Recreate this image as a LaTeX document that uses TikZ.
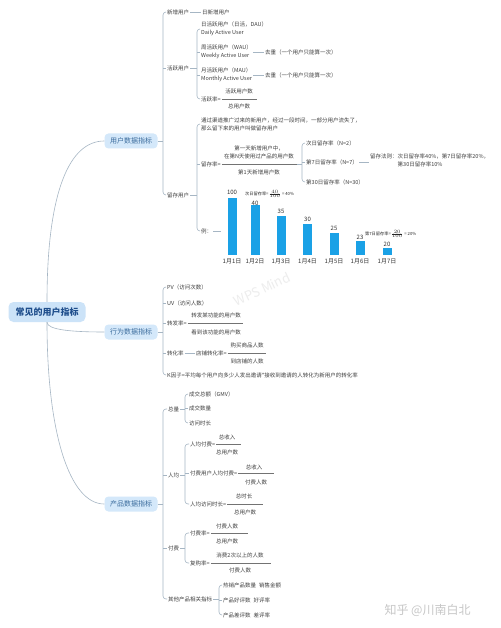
\documentclass[tikz,border=0pt]{standalone}
\usepackage{fontspec}
\setmainfont{Noto Sans CJK SC}
\usetikzlibrary{positioning}
\definecolor{txtc}{HTML}{404040}
\definecolor{linec}{HTML}{A6B6C4}
\definecolor{rootfill}{HTML}{CCE3F8}
\definecolor{rootc}{HTML}{1F4E8C}
\definecolor{topfill}{HTML}{D4E8FA}
\definecolor{topc}{HTML}{3A6B9C}
\definecolor{barc}{HTML}{1AA1E6}

\begin{document}
\begin{tikzpicture}[x=1pt, y=-1pt,
  txt/.style={anchor=west, inner sep=1pt, text=txtc, align=left, font=\fontsize{5.5}{8}\selectfont},
  num/.style={inner sep=1pt, text=txtc, align=center, font=\fontsize{5.5}{8}\selectfont},
  topic/.style={fill=topfill, rounded corners=4pt, text=topc, minimum width=53pt, minimum height=15pt, inner sep=1pt, font=\fontsize{7}{8}\selectfont},
  link/.style={draw=linec, line width=0.6pt},
  br/.style={draw=linec, line width=0.6pt, rounded corners=3pt},
  frac/.style={draw=black!55, line width=0.4pt},
  barval/.style={text=black!80, inner sep=0pt, font=\fontsize{6}{6}\selectfont},
  day/.style={text=black!80, inner sep=0pt, font=\fontsize{6}{6}\selectfont},
  anno/.style={anchor=west, inner sep=0pt, text=black!85, font=\fontsize{4.2}{5}\selectfont}]
\fill[white] (0,0) rectangle (500,628);
\useasboundingbox (0,0) rectangle (500,628);

% root and main topics
\node[fill=rootfill, rounded corners=5pt, text=rootc, minimum width=77pt, minimum height=20pt, font=\fontsize{9}{10}\selectfont\bfseries] (root) at (47,312) {常见的用户指标};
\node[topic] (user) at (131,141) {用户数据指标};
\node[topic] (act) at (131,332) {行为数据指标};
\node[topic] (prod) at (131,504) {产品数据指标};
\draw[link] (root.north) .. controls +(0,-110) and +(-35,0) .. (user.west);
\draw[link] (root.south) .. controls +(0,8) and +(-30,0) .. (act.west);
\draw[link] (root.south) .. controls +(0,110) and +(-35,0) .. (prod.west);

\coordinate (ub) at (163,0);
\coordinate (ab) at (197,0);
\coordinate (nb) at (302,0);
\coordinate (pb) at (185,0);
\coordinate (ob) at (219,0);

% user data
\node[txt] (newu) at (166,12) {新增用户};
\node[txt] (actu) at (166,68) {活跃用户};
\node[txt] (retu) at (166,195) {留存用户};
\draw[link] (user.east) -- (user.east -| ub);
\draw[br] (newu.west) -- (newu.west -| ub) -- (retu.west -| ub) -- (retu.west);
\draw[link] (actu.west -| ub) -- (actu.west);
\node[txt] (dnew) at (201,12) {日新增用户};
\draw[link] (newu) -- (dnew);

\node[txt] (dau) at (200,29) {日活跃用户（日活，DAU）\\Daily Active User};
\node[txt] (wau) at (200,52) {周活跃用户（WAU）\\Weekly Active User};
\node[txt] (mau) at (200,75) {月活跃用户（MAU）\\Monthly Active User};
\node[txt] (arate) at (200,99) {活跃率=};
\draw[link] (actu.east) -- (actu.east -| ab);
\draw[br] (dau.west) -- (dau.west -| ab) -- (arate.west -| ab) -- (arate.west);
\draw[link] (wau.west -| ab) -- (wau.west);
\draw[link] (mau.west -| ab) -- (mau.west);
\node[txt] (wdup) at (264,52) {去重（一个用户只能算一次）};
\node[txt] (mdup) at (264,75) {去重（一个用户只能算一次）};
\draw[link] (wau) -- (wdup);
\draw[link] (mau) -- (mdup);
\node[num] (aranum) at (239,91) {活跃用户数};
\node[num] (araden) at (239,106) {总用户数};
\draw[frac] (arate.east) -- ++(35,0);

\node[txt] (rdesc) at (200,124) {通过渠道推广过来的新用户，经过一段时间，一部分用户流失了，\\那么留下来的用户叫做留存用户};
\node[txt] (rrate) at (200,164) {留存率=};
\node[txt] (rex) at (200,231) {例：};
\draw[link] (retu.east) -- (retu.east -| ab);
\draw[br] (rdesc.west) -- (rdesc.west -| ab) -- (rex.west -| ab) -- (rex.west);
\draw[link] (rrate.west -| ab) -- (rrate.west);
\node[num] (rnum) at (259,152) {第一天新增用户中，\\在第N天使用过产品的用户数};
\node[num] (rden) at (259,172) {第1天新增用户数};
\draw[frac] (rrate.east) -- ++(75,0) coordinate (rend);

\node[txt] (r2) at (305,143) {次日留存率（N=2）};
\node[txt] (r7) at (305,162) {第7日留存率（N=7）};
\node[txt] (r30) at (305,182) {第30日留存率（N=30）};
\draw[link] (rend) -- (rend -| nb);
\draw[br] (r2.west) -- (r2.west -| nb) -- (r30.west -| nb) -- (r30.west);
\draw[link] (r7.west -| nb) -- (r7.west);
\node[txt] (rule) at (369,160) {留存法则：次日留存率40\%，第7日留存率20\%，\\\phantom{留存法则：}第30日留存率10\%};
\draw[link] (r7.east) -- (r7.east -| rule.west);

% example chart
\coordinate (chart) at (221,231);
\draw[link] (rex.east) -- (chart);
\foreach \x/\ty/\v/\ly [count=\i] in {232/198/100/192, 255/205/40/203, 281/216/35/211, 307.5/224/30/219, 334/233/25/228, 360/241/23/237, 387/248/20/244} {
  \fill[barc] (\x-4.5,\ty) rectangle (\x+4.5,255);
  \node[barval] (v\i) at (\x,\ly) {\v};
  \node[day] (d\i) at (\x,261) {1月\i 日};
}
\node[anno] (ann1) at (245,194) {次日留存率=$\frac{40}{100}$ = 40\%};
\node[anno] (ann7) at (365,234) {第7日留存率=$\frac{20}{100}$ = 20\%};

% behaviour data
\node[txt] (pv) at (166,287) {PV（访问次数）};
\node[txt] (uv) at (166,303) {UV（访问人数）};
\node[txt] (fwd) at (166,323) {转发率=};
\node[txt] (conv) at (166,353) {转化率};
\node[txt] (kf) at (166,375) {K因子=平均每个用户向多少人发出邀请*接收到邀请的人转化为新用户的转化率};
\draw[link] (act.east) -- (act.east -| ub);
\draw[br] (pv.west) -- (pv.west -| ub) -- (kf.west -| ub) -- (kf.west);
\foreach \n in {uv,fwd,conv} \draw[link] (\n.west -| ub) -- (\n.west);
\node[num] (fwdnum) at (216,315) {转发某功能的用户数};
\node[num] (fwdden) at (216,332) {看到该功能的用户数};
\draw[frac] (fwd.east) -- ++(55,0);
\node[txt] (shop) at (195,353) {店铺转化率=};
\draw[link] (conv) -- (shop);
\node[num] (shopnum) at (247,345) {购买商品人数};
\node[num] (shopden) at (247,361) {到店铺的人数};
\draw[frac] (shop.east) -- ++(38,0);

% product data
\node[txt] (tot) at (167,409) {总量};
\node[txt] (avg) at (167,475) {人均};
\node[txt] (pay) at (167,548) {付费};
\node[txt] (oth) at (167,599) {其他产品相关指标};
\draw[link] (prod.east) -- (prod.east -| ub);
\draw[br] (tot.west) -- (tot.west -| ub) -- (oth.west -| ub) -- (oth.west);
\foreach \n in {avg,pay} \draw[link] (\n.west -| ub) -- (\n.west);

\node[txt] (gmv) at (188,394) {成交总额（GMV）};
\node[txt] (cnt) at (188,408) {成交数量};
\node[txt] (dur) at (188,423) {访问时长};
\draw[link] (tot.east) -- (tot.east -| pb);
\draw[br] (gmv.west) -- (gmv.west -| pb) -- (dur.west -| pb) -- (dur.west);
\draw[link] (cnt.west -| pb) -- (cnt.west);

\node[txt] (arpu) at (189,444) {人均付费=};
\node[txt] (arppu) at (189,473) {付费用户人均付费=};
\node[txt] (atime) at (189,504) {人均访问时长=};
\draw[link] (avg.east) -- (avg.east -| pb);
\draw[br] (arpu.west) -- (arpu.west -| pb) -- (atime.west -| pb) -- (atime.west);
\draw[link] (arppu.west -| pb) -- (arppu.west);
\node[num] (arpunum) at (227,437) {总收入};
\node[num] (arpuden) at (227,452) {总用户数};
\draw[frac] (arpu.east) -- ++(25,0);
\node[num] (arppunum) at (254,467) {总收入};
\node[num] (arppuden) at (256,482) {付费人数};
\draw[frac] (arppu.east) -- ++(36,0);
\node[num] (atimenum) at (244,496) {总时长};
\node[num] (atimeden) at (245,512) {总用户数};
\draw[frac] (atime.east) -- ++(36,0);

\node[txt] (prate) at (189,533) {付费率=};
\node[txt] (rep) at (189,563) {复购率=};
\draw[link] (pay.east) -- (pay.east -| pb);
\draw[br] (prate.west) -- (prate.west -| pb) -- (rep.west -| pb) -- (rep.west);
\node[num] (pratenum) at (227,526) {付费人数};
\node[num] (prateden) at (227,541) {总用户数};
\draw[frac] (prate.east) -- ++(37,0);
\node[num] (repnum) at (240,555) {消费2次以上的人数};
\node[num] (repden) at (240,570) {付费人数};
\draw[frac] (rep.east) -- ++(60,0);

\node[txt] (hot) at (222,585) {热销产品数量\hspace{3pt}销售金额};
\node[txt] (good) at (222,600) {产品好评数\hspace{3pt}好评率};
\node[txt] (bad) at (222,615) {产品差评数\hspace{3pt}差评率};
\draw[link] (oth.east) -- (oth.east -| ob);
\draw[br] (hot.west) -- (hot.west -| ob) -- (bad.west -| ob) -- (bad.west);
\draw[link] (good.west -| ob) -- (good.west);

% watermarks
\node[text=black!7, rotate=25, font=\fontsize{13}{13}\selectfont] (wps) at (262,289) {WPS Mind};
\node[anchor=west, text=black!22, font=\fontsize{12}{12}\selectfont] (zhihu) at (381,610) {知乎 @川南白北};
\end{tikzpicture}
\end{document}
